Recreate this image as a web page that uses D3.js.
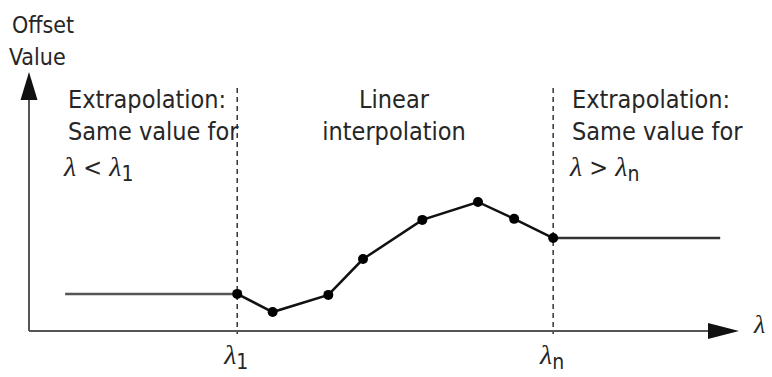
<!DOCTYPE html>
<html>
<head>
<meta charset="utf-8">
<script src="https://cdn.jsdelivr.net/npm/d3@7"></script>
<style>
  body { margin: 0; background: #fff; }
  text { font-family: "DejaVu Sans Condensed", "Liberation Sans", sans-serif; fill: #262626; }
  tspan.lam { font-family: "Liberation Serif", "DejaVu Serif", serif; font-style: italic; }
</style>
</head>
<body>
<svg width="772" height="377"></svg>
<script>
// measured points (lambda, offset) in arbitrary units
const lambdas = [28.8, 33.7, 41.4, 46.2, 54.4, 62.1, 67.1, 72.5];
const offsets = [14.5, 7.4, 14.1, 28.1, 43.4, 50.4, 43.8, 36.3];
const lambdaMin = 5, lambdaMax = 95.6;

const svg = d3.select('svg');
const x = d3.scaleLinear().domain([0, 100]).range([29, 752]);
const y = d3.scaleLinear().domain([0, 100]).range([331, 75]);

const pts = lambdas.map((l, i) => ({x: l, y: offsets[i]}));
const first = pts[0], last = pts[pts.length - 1];
const line = d3.line().x(d => x(d.x)).y(d => y(d.y));

// dashed markers at lambda_1 and lambda_n
[first.x, last.x].forEach(l => {
  svg.append('line')
    .attr('x1', x(l)).attr('x2', x(l))
    .attr('y1', 88).attr('y2', 334)
    .attr('stroke', '#333').attr('stroke-width', 1.5)
    .attr('stroke-dasharray', '5,4');
});

// axes
svg.append('line').attr('x1', x(0)).attr('x2', x(0)).attr('y1', y(0)).attr('y2', 98)
  .attr('stroke', '#555').attr('stroke-width', 2);
svg.append('line').attr('x1', x(0)).attr('x2', 712).attr('y1', y(0)).attr('y2', y(0))
  .attr('stroke', '#555').attr('stroke-width', 2);
svg.append('path').attr('d', `M${x(0)},72 L${x(0) - 8.5},100 L${x(0) + 8.5},100 Z`).attr('fill', '#111');
svg.append('path').attr('d', `M739,${y(0)} L708,${y(0) - 8} L708,${y(0) + 8} Z`).attr('fill', '#111');

// extrapolated flats
svg.append('path').attr('d', line([{x: lambdaMin, y: first.y}, first]))
  .attr('fill', 'none').attr('stroke', '#555').attr('stroke-width', 2.5);
svg.append('path').attr('d', line([last, {x: lambdaMax, y: last.y}]))
  .attr('fill', 'none').attr('stroke', '#333').attr('stroke-width', 2.5);

// interpolated curve
svg.append('path').attr('d', line(pts))
  .attr('fill', 'none').attr('stroke', '#111').attr('stroke-width', 2.5);
svg.selectAll('.pt').data(pts).enter().append('circle')
  .attr('class', 'pt')
  .attr('cx', d => x(d.x)).attr('cy', d => y(d.y)).attr('r', 5)
  .attr('fill', '#000');

// text
function txt(s, tx, ty, fs, anchor) {
  return svg.append('text').attr('x', tx).attr('y', ty).attr('font-size', fs)
    .attr('text-anchor', anchor || 'start').text(s);
}
txt('Offset', 12, 33, 23);
txt('Value', 9, 65, 23);
txt('Extrapolation:', 68, 108, 25);
txt('Same value for', 68, 140, 25);
txt('Extrapolation:', 572, 108, 25);
txt('Same value for', 572, 140, 25);
txt('Linear', 394, 108, 25, 'middle');
txt('interpolation', 394, 140, 25, 'middle');

function lamExpr(tx, ty, parts, fs, anchor) {
  const t = svg.append('text').attr('x', tx).attr('y', ty).attr('font-size', fs)
    .attr('text-anchor', anchor || 'start');
  parts.forEach(p => {
    const s = t.append('tspan').text(p.t);
    if (p.lam) s.attr('class', 'lam').attr('font-size', fs + 3);
    if (p.sub) s.attr('dy', 5).attr('font-size', fs - 4);
  });
  return t;
}
lamExpr(64, 176, [{t: 'λ', lam: true}, {t: ' < '}, {t: 'λ', lam: true}, {t: '1', sub: true}], 25);
lamExpr(570, 176, [{t: 'λ', lam: true}, {t: ' > '}, {t: 'λ', lam: true}, {t: 'n', sub: true}], 25);
lamExpr(x(first.x) - 1, 364, [{t: 'λ', lam: true}, {t: '1', sub: true}], 25, 'middle');
lamExpr(x(last.x) - 1, 364, [{t: 'λ', lam: true}, {t: 'n', sub: true}], 25, 'middle');
lamExpr(754, 333, [{t: 'λ', lam: true}], 23);
</script>
</body>
</html>
